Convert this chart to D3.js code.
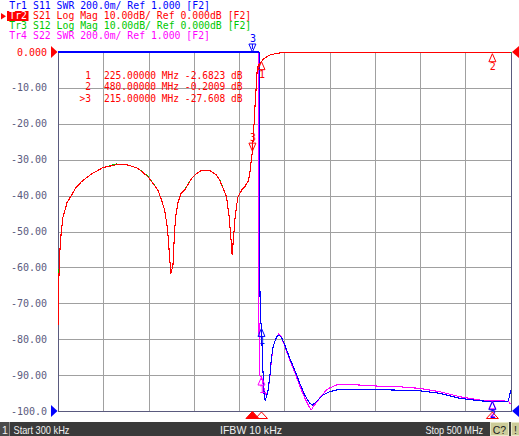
<!DOCTYPE html>
<html><head><meta charset="utf-8">
<script src="https://cdn.jsdelivr.net/npm/d3@7"></script>
<style>body{margin:0;background:#fff;overflow:hidden}svg{display:block}</style>
</head><body>
<svg id="c" width="519" height="436"></svg>
<script>
// ---------- DATA ----------
const freqS21 = [0.3,0.8,1.4,2.5,3.9,5.8,7.7,10.2,15,20,26,37,50,64.5,71,77.5,88.5,99.5,110.5,115,118,120.5,121.6,123.5,124.9,126,127.2,129,130.5,132.7,136,140.4,147.8,152.5,158.8,163.6,168,175.4,179,182.6,186.4,189.3,191.1,192.6,194.4,195.5,197.4,198.9,201,204.4,206.6,210.2,211.8,213.4,215,216,216.8,217.9,219,219.8,220.4,221.8,223.4,225,226.7,228.9,231.6,234.4,241.8,248.7,267.5,322,377,432,480,500];
const s21 = [-76,-70,-62,-55,-50,-46,-44.4,-42,-40,-37.8,-36.2,-34,-32.2,-31.4,-31.3,-31.5,-32.4,-34.7,-38.4,-41.5,-44,-48,-50.5,-57,-61.8,-60.5,-59.7,-50,-45.5,-42,-39.5,-38.4,-35.2,-34,-33,-32.9,-33,-34.3,-35.8,-38,-40.3,-45.9,-51.4,-56.5,-51,-47,-43,-40.5,-39.4,-38,-37.5,-36,-34.5,-31,-27.608,-23.5,-20,-15,-10.5,-7,-4.5,-3.6,-3.2,-2.6823,-2.0,-1.7,-1.2,-0.84,-0.37,-0.2,-0.12,-0.15,-0.05,-0.18,-0.2009,-0.2];
const s12 = [-69.5,-68,-61,-55,-50,-46,-44.4,-42,-40,-37.8,-36.2,-34,-32.2,-31.2,-31.3,-31.5,-32.4,-34.6,-38.4,-41.5,-44,-48,-50.5,-57,-61.5,-60.5,-59.7,-50,-45.5,-42,-39.5,-38.3,-35.2,-34,-33,-32.9,-33,-34.3,-35.7,-38,-40.3,-45.9,-51.4,-56,-51,-47,-43,-40.5,-39.4,-38,-37.5,-36,-34.5,-31,-27.6,-23.5,-20,-15,-10.5,-7,-4.5,-3.6,-3.2,-2.68,-2.0,-1.7,-1.2,-0.84,-0.37,-0.2,-0.12,-0.15,-0.02,-0.18,-0.2,-0.2];
const freqS11 = [0.3,50,100,150,200,215,220,222.4,222.7,223.5,223.9,225,226.4,228.1,229.2,230.5,232.3,234.2,236,237.8,241.5,244,247,250.7,256.2,261.7,267.3,272.8,278.3,281.3,285.7,293,300.3,311.4,333.5,370.2,399.6,421.7,443.8,465.8,480,497,499,500];
const s11 = [60,40,35,30,20,9,5,3.05,1.86,1.62,1.52,1.46,1.25,1.072,1.061,1.080,1.117,1.191,1.295,1.358,1.411,1.423,1.411,1.368,1.294,1.228,1.154,1.089,1.043,1.033,1.052,1.089,1.108,1.121,1.121,1.117,1.113,1.099,1.071,1.057,1.052,1.052,1.08,1.117];
const freqS22 = [0.3,100,200,215,221.4,222,222.6,223.1,225,227,229.2,230.5,232.3,234.2,236,237.8,241.5,244,247,250.7,256.2,261.7,267.3,272.8,277.2,280.2,282.7,289.3,296.7,300.3,307.7,325.7,351.9,377.6,399.6,421.7,443.8,465.8,480,493,498.5,500];
const s22 = [60,40,20,10,3.1,1.62,1.28,1.195,1.189,1.145,1.100,1.089,1.117,1.184,1.284,1.357,1.412,1.429,1.412,1.362,1.284,1.217,1.139,1.072,1.028,1.006,1.028,1.072,1.117,1.128,1.145,1.147,1.139,1.135,1.126,1.108,1.080,1.061,1.057,1.056,1.05,1.039];
const yTickValues = [0,-10,-20,-30,-40,-50,-60,-70,-80,-90,-100];
const yTickLabels = ["0.000","-10.00","-20.00","-30.00","-40.00","-50.00","-60.00","-70.00","-80.00","-90.00","-100.0"];
const headerTr = ["Tr1","Tr2","Tr3","Tr4"];
const headerRest = ["S11 SWR 200.0m/ Ref 1.000 [F2]","S21 Log Mag 10.00dB/ Ref 0.000dB [F2]","S12 Log Mag 10.00dB/ Ref 0.000dB [F2]","S22 SWR 200.0m/ Ref 1.000 [F2]"];
const markerIds = ["1","2",">3"];
const markerFreqs = [225,480,215];
const markerVals = [-2.6823,-0.2009,-27.608];
const markerFreqText = ["225.00000","480.00000","215.00000"];
const startLabel = "Start 300 kHz", ifbwLabel = "IFBW 10 kHz", stopLabel = "Stop 500 MHz";
const fStart = 0.3, fStop = 500;

// ---------- LAYOUT ----------
const L = 58, R = 510.5, T = 52, B = 411;
const BLUE = "#0000ff", RED = "#ff0000", GREEN = "#00c800", MAG = "#ff00ff", SLATE = "#5a5a7e";
const MONO = "'DejaVu Sans Mono', 'Liberation Mono', monospace";
const svg = d3.select("#c");
svg.append("rect").attr("width",519).attr("height",436).attr("fill","#fff");

const x = d3.scaleLinear().domain([fStart,fStop]).range([L,R]);
const yDb = d3.scaleLinear().domain([-100,0]).range([B,T]).clamp(true);
const ySwr = d3.scaleLinear().domain([1,3]).range([B,T]).clamp(true);

// grid
const grid = svg.append("g").attr("stroke","#a0a0a0").attr("stroke-width",1).attr("shape-rendering","crispEdges");
d3.range(1,10).forEach(i=>{
  const gx = Math.round(x(fStart + (fStop-fStart)*i/10))+0.5;
  grid.append("line").attr("x1",gx).attr("x2",gx).attr("y1",T).attr("y2",B);
});
yTickValues.slice(1,-1).forEach(v=>{
  const gy = Math.round(yDb(v))+0.5;
  grid.append("line").attr("x1",L).attr("x2",R).attr("y1",gy).attr("y2",gy);
});
const frame = svg.append("g").attr("stroke",SLATE).attr("stroke-width",1).attr("shape-rendering","crispEdges");
frame.append("line").attr("x1",L+0.5).attr("x2",L+0.5).attr("y1",T).attr("y2",B+0.5);
frame.append("line").attr("x1",Math.round(R)+0.5).attr("x2",Math.round(R)+0.5).attr("y1",T).attr("y2",B+0.5);
frame.append("line").attr("x1",L).attr("x2",R+1).attr("y1",B+0.5).attr("y2",B+0.5);

// y labels
svg.append("g").selectAll("text").data(yTickValues).join("text")
  .attr("x",47).attr("y",d=>yDb(d)+0.5).attr("text-anchor","end").attr("dominant-baseline","middle")
  .attr("font-family",MONO).attr("font-size","10px")
  .attr("fill",(d,i)=>i===0?RED:SLATE).text((d,i)=>yTickLabels[i]);

// reference triangles
const tri = (pts,fill,stroke)=>svg.append("polygon").attr("points",pts.map(p=>p.join(",")).join(" ")).attr("fill",fill||"none").attr("stroke",stroke||"none").attr("stroke-width",1);
tri([[51,yDb(0)-6],[57.5,yDb(0)],[51,yDb(0)+6]],RED);
tri([[51,ySwr(1)-6],[57.5,ySwr(1)],[51,ySwr(1)+6]],BLUE);
tri([[519,yDb(0)-6],[512,yDb(0)],[519,yDb(0)+6]],RED);
tri([[519,ySwr(1)-6],[512,ySwr(1)],[519,ySwr(1)+6]],BLUE);

// traces
svg.append("clipPath").attr("id","pc").append("rect").attr("x",L).attr("y",T-1).attr("width",R-L+1).attr("height",B-T+2);
const tr = svg.append("g").attr("clip-path","url(#pc)").attr("fill","none").attr("stroke-width",1.1).attr("stroke-linejoin","round").attr("shape-rendering","crispEdges");
const line = (fs,vals,ys)=>d3.line().x((d,i)=>x(fs[i])).y(d=>ys(d))(vals);
tr.append("path").attr("d",line(freqS22,s22,ySwr)).attr("stroke",MAG);
tr.append("path").attr("d",line(freqS11,s11,ySwr)).attr("stroke",BLUE);
tr.append("path").attr("d",line(freqS21,s12,yDb)).attr("stroke",GREEN);
tr.append("path").attr("d",line(freqS21,s21,yDb)).attr("stroke",RED);

// markers
const interp = (fs,vals)=>d3.scaleLinear().domain(fs).range(vals);
const iS11 = interp(freqS11,s11), iS22 = interp(freqS22,s22);
const mk = svg.append("g").attr("font-family",MONO).attr("font-size","10px");
function markUp(px,py,color,label){
  tri([[px,py],[px-3.5,py+8],[px+3.5,py+8]],"none",color);
  mk.append("text").attr("x",px+0.5).attr("y",py+13).attr("text-anchor","middle").attr("dominant-baseline","middle").attr("fill",color).text(label);
}
function markDown(px,py,color,label){
  tri([[px,py],[px-3.5,py-8],[px+3.5,py-8]],"none",color);
  svg.append("line").attr("x1",px).attr("x2",px).attr("y1",py-8).attr("y2",py-3).attr("stroke",color);
  mk.append("text").attr("x",px+0.5).attr("y",py-13).attr("text-anchor","middle").attr("dominant-baseline","middle").attr("fill",color).text(label);
}
markUp(x(markerFreqs[0]),ySwr(iS22(markerFreqs[0])),MAG,"1");
markUp(x(markerFreqs[1]),ySwr(iS22(markerFreqs[1])),MAG,"2");
markUp(x(markerFreqs[0]),ySwr(iS11(markerFreqs[0])),BLUE,"1");
markUp(x(markerFreqs[1]),ySwr(iS11(markerFreqs[1])),BLUE,"2");
markDown(x(markerFreqs[2]),ySwr(iS11(markerFreqs[2])),BLUE,"3");
markUp(x(markerFreqs[0]),yDb(markerVals[0]),RED,"1");
markUp(x(markerFreqs[1]),yDb(markerVals[1])+1,RED,"2");
markDown(x(markerFreqs[2]),yDb(markerVals[2]),RED,"3");

// stimulus axis marker indicators
markerFreqs.forEach((f,i)=>{
  const px = x(f);
  if(i===2) tri([[px-6.5,418.5],[px,411.5],[px+6.5,418.5]],RED,RED);
  else tri([[px-6,418.5],[px,412],[px+6,418.5]],"none",RED);
});

// marker table
const mt = svg.append("g").attr("font-family",MONO).attr("font-size","9.6px").attr("fill",RED);
markerIds.forEach((id,i)=>{
  const yy = 75.5 + i*11.5;
  mt.append("text").attr("x",91).attr("y",yy).attr("text-anchor","end").attr("dominant-baseline","middle").text(id);
  mt.append("text").attr("x",104).attr("y",yy).attr("dominant-baseline","middle")
    .text(markerFreqText[i]+" MHz "+(markerVals[i]<=-10?markerVals[i].toFixed(3):markerVals[i].toFixed(4))+" dB");
});

// header
const hcol = [BLUE,RED,GREEN,MAG];
svg.append("rect").attr("x",7).attr("y",11).attr("width",21.5).attr("height",10).attr("fill",RED);
tri([[1,13],[6,16.2],[1,19.5]],RED);
const hd = svg.append("g").attr("font-family",MONO).attr("font-size","9.8px");
headerTr.forEach((t,i)=>{
  const yy = 6 + i*10;
  hd.append("text").attr("x",9.3).attr("y",yy).attr("dominant-baseline","middle").attr("fill",i===1?"#fff":hcol[i]).text(t);
  hd.append("text").attr("x",33).attr("y",yy).attr("dominant-baseline","middle").attr("fill",hcol[i]).text(headerRest[i]);
});

// status bar
const sb = svg.append("g");
sb.append("rect").attr("x",0).attr("y",422).attr("width",519).attr("height",14).attr("fill","#3a3a3a");
sb.append("rect").attr("x",0).attr("y",422).attr("width",9).attr("height",14).attr("fill","#4a4a4a");
sb.append("line").attr("x1",9.5).attr("x2",9.5).attr("y1",422).attr("y2",436).attr("stroke","#8a8a8a");
sb.append("rect").attr("x",490.5).attr("y",422.5).attr("width",18).attr("height",13).attr("fill","#cccc99").attr("stroke","#e8e8c8");
sb.append("rect").attr("x",511.5).attr("y",422.5).attr("width",8).attr("height",13).attr("fill","#cccc99").attr("stroke","#e8e8c8");
const st = sb.append("g").attr("font-family","'Liberation Sans', Arial, sans-serif").attr("font-size","10.5px");
st.append("text").attr("x",2).attr("y",433.5).attr("fill","#f0f0f0").text("1");
st.append("text").attr("x",13.5).attr("y",433.5).attr("fill","#f0f0f0").attr("textLength",56).attr("lengthAdjust","spacingAndGlyphs").text(startLabel);
st.append("text").attr("x",220).attr("y",433.5).attr("fill","#f0f0f0").attr("textLength",62).attr("lengthAdjust","spacingAndGlyphs").text(ifbwLabel);
st.append("text").attr("x",425.5).attr("y",433.5).attr("fill","#f0f0f0").attr("textLength",57.5).attr("lengthAdjust","spacingAndGlyphs").text(stopLabel);
st.append("text").attr("x",499.5).attr("y",433.5).attr("text-anchor","middle").attr("fill","#202020").text("C?");
st.append("text").attr("x",515.5).attr("y",433.5).attr("text-anchor","middle").attr("fill","#202020").text("!");
</script>
</body></html>
